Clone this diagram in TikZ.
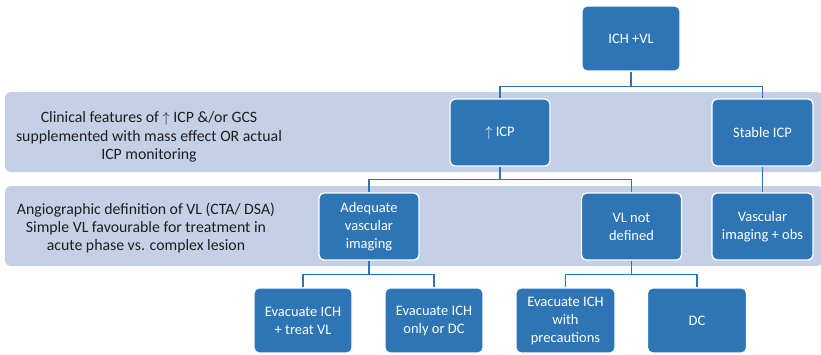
\documentclass[tikz,border=0pt]{standalone}
\usepackage{fontspec}
\setmainfont{Carlito}
\definecolor{boxblue}{RGB}{46,117,182}
\definecolor{bandblue}{RGB}{196,208,229}
\definecolor{labeltext}{RGB}{30,30,30}
\begin{document}
\begin{tikzpicture}[x=1pt,y=-1pt,
  band/.style={fill=bandblue,draw=none,rounded corners=6pt},
  bluebox/.style={draw=white,line width=1.3pt,fill=boxblue,rounded corners=5pt,text=white,align=center,inner sep=1pt,font=\fontsize{14.5}{18}\selectfont},
  bandlabel/.style={text=labeltext,align=center,inner sep=0pt,font=\fontsize{15.8}{18.4}\selectfont},
  link/.style={draw=boxblue,line width=1.4pt}]
\useasboundingbox (0,0) rectangle (821,354);
% bands
\fill[band] (5,92) rectangle (823,172);
\fill[band] (5,186) rectangle (823,266);
\node[bandlabel] (lab1) at (149,137) {Clinical features of $\uparrow$ ICP \&/or GCS\\supplemented with mass effect OR actual\\ICP monitoring};
\node[bandlabel] (lab2) at (146,228) {Angiographic definition of VL (CTA/ DSA)\\Simple VL favourable for treatment in\\acute phase vs. complex lesion};
% boxes
\node[bluebox,minimum width=98pt,minimum height=65pt] (top) at (631,38.5) {ICH +VL};
\node[bluebox,minimum width=100pt,minimum height=67pt] (icp) at (500,132.5) {$\uparrow$ ICP};
\node[bluebox,minimum width=101pt,minimum height=67pt] (stable) at (762.5,132.5) {Stable ICP};
\node[bluebox,minimum width=100pt,minimum height=67pt] (adeq) at (369,226.5) {Adequate\\vascular\\imaging};
\node[bluebox,minimum width=100pt,minimum height=67pt] (vlnd) at (631.5,226.5) {VL not\\defined};
\node[bluebox,minimum width=101pt,minimum height=67pt] (vasc) at (762.5,226.5) {Vascular\\imaging + obs};
\node[bluebox,minimum width=98pt,minimum height=65pt] (e1) at (303,320.5) {Evacuate ICH\\+ treat VL};
\node[bluebox,minimum width=98pt,minimum height=65pt] (e2) at (434,320.5) {Evacuate ICH\\only or DC};
\node[bluebox,minimum width=99pt,minimum height=65pt] (e3) at (565.5,320.5) {Evacuate ICH\\with\\precautions};
\node[bluebox,minimum width=99pt,minimum height=65pt] (dc) at (697,320.5) {DC};
% connectors
\draw[link] (top.south) -- ++(0,15) coordinate (j1) -| (icp.north);
\draw[link] (j1) -| (stable.north);
\draw[link] (icp.south) -- ++(0,13) coordinate (j2) -| (adeq.north);
\draw[link] (j2) -| (vlnd.north);
\draw[link] (stable.south) -- (vasc.north);
\draw[link] (adeq.south) -- ++(0,14) coordinate (j3) -| (e1.north);
\draw[link] (j3) -| (e2.north);
\draw[link] (vlnd.south) -- ++(0,14) coordinate (j4) -| (e3.north);
\draw[link] (j4) -| (dc.north);
\end{tikzpicture}
\end{document}
